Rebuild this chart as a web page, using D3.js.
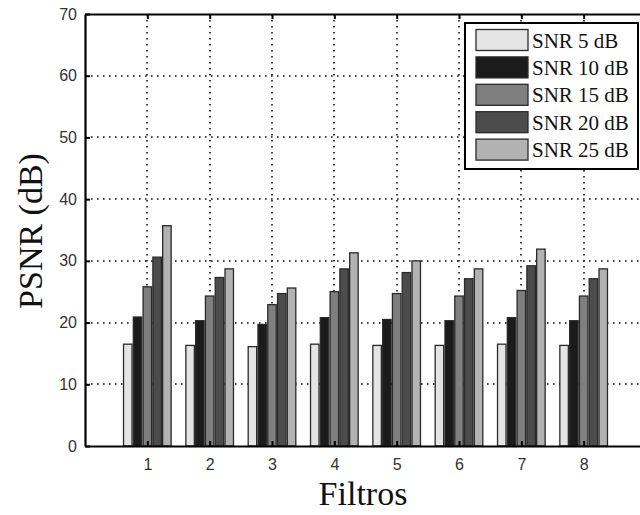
<!DOCTYPE html>
<html>
<head>
<meta charset="utf-8">
<script src="https://cdn.jsdelivr.net/npm/d3@7"></script>
<style>
  html, body { margin: 0; padding: 0; background: #fff; overflow: hidden; }
  svg { display: block; }
</style>
</head>
<body>
<svg id="chart" width="640" height="515"></svg>
<script>
// PSNR per filter for each input SNR level
const filtros = [1, 2, 3, 4, 5, 6, 7, 8];
const seriesNames = ["SNR 5 dB", "SNR 10 dB", "SNR 15 dB", "SNR 20 dB", "SNR 25 dB"];
const snr5  = [16.5, 16.3, 16.1, 16.5, 16.3, 16.3, 16.5, 16.3];
const snr10 = [20.9, 20.3, 19.7, 20.8, 20.5, 20.3, 20.8, 20.3];
const snr15 = [25.8, 24.3, 22.9, 25.0, 24.7, 24.3, 25.2, 24.3];
const snr20 = [30.6, 27.3, 24.7, 28.7, 28.1, 27.1, 29.2, 27.1];
const snr25 = [35.7, 28.7, 25.6, 31.3, 30.0, 28.7, 31.9, 28.7];
const yTicks = [0, 10, 20, 30, 40, 50, 60, 70];
const seriesValues = [snr5, snr10, snr15, snr20, snr25];
const fills = ["#e4e4e4", "#1b1b1b", "#7f7f7f", "#4c4c4c", "#b2b2b2"];

const svg = d3.select("#chart");
const plotLeft = 85, plotTop = 14, plotBottom = 446, plotRight = 646;

const x = d3.scaleLinear().domain([0, 9]).range([plotLeft, plotRight]);
const y = d3.scaleLinear().domain([0, 70]).range([plotBottom, plotTop]);

// dotted grid, snapped to whole pixels so the dots stay crisp
const grid = svg.append("g").attr("stroke", "#111").attr("stroke-width", 1.6)
  .attr("stroke-dasharray", "1.6,4.4");
grid.selectAll("line.v").data(filtros).join("line").attr("class", "v")
  .attr("x1", d => Math.round(x(d))).attr("x2", d => Math.round(x(d)))
  .attr("y1", plotTop).attr("y2", plotBottom);
grid.selectAll("line.h").data(yTicks.filter(t => t > 0 && t < 70)).join("line").attr("class", "h")
  .attr("x1", plotLeft).attr("x2", plotRight)
  .attr("y1", d => Math.round(y(d))).attr("y2", d => Math.round(y(d)));

// grouped bars
const step = 0.157, barW = 0.136;
const bars = svg.append("g");
seriesValues.forEach((vals, si) => {
  bars.append("g").selectAll("rect").data(vals).join("rect")
    .attr("x", (d, i) => x(filtros[i] + (si - 2) * step - barW / 2))
    .attr("width", x(barW) - x(0))
    .attr("y", d => y(d))
    .attr("height", d => y(0) - y(d))
    .attr("fill", fills[si])
    .attr("stroke", "#2a2a2a")
    .attr("stroke-width", 1.3);
});

// axes box
const tickFont = "Liberation Sans, Arial, sans-serif";
const axisG = svg.append("g");
axisG.append("g").attr("transform", `translate(${plotLeft},0)`)
  .call(d3.axisLeft(y).tickValues(yTicks).tickSizeInner(-5).tickSizeOuter(0).tickPadding(8))
  .call(g => g.select(".domain").attr("stroke-width", 2.2))
  .call(g => g.selectAll(".tick line").attr("stroke-width", 2))
  .call(g => g.selectAll("text").attr("font-family", tickFont)
    .attr("font-size", 16).attr("fill", "#333"));
axisG.append("g").attr("transform", `translate(0,${plotBottom})`)
  .call(d3.axisBottom(x).tickValues(filtros).tickFormat(d3.format("d"))
    .tickSizeInner(-5).tickSizeOuter(0).tickPadding(13))
  .call(g => g.select(".domain").attr("stroke-width", 2.2))
  .call(g => g.selectAll(".tick line").attr("stroke-width", 2))
  .call(g => g.selectAll("text").attr("font-family", tickFont)
    .attr("font-size", 16).attr("fill", "#333"));
axisG.append("g").attr("transform", `translate(0,${plotTop})`)
  .call(d3.axisTop(x).tickValues(filtros).tickFormat("").tickSizeInner(-5).tickSizeOuter(0))
  .call(g => g.select(".domain").attr("stroke-width", 2.2))
  .call(g => g.selectAll(".tick line").attr("stroke-width", 2));

// axis titles
const titleFont = "Liberation Serif, Times New Roman, serif";
svg.append("text")
  .attr("x", 363).attr("y", 505)
  .attr("text-anchor", "middle")
  .attr("font-family", titleFont)
  .attr("font-size", 34).attr("fill", "#111")
  .text("Filtros");
svg.append("text")
  .attr("transform", "translate(42,231) rotate(-90)")
  .attr("text-anchor", "middle")
  .attr("font-family", titleFont)
  .attr("font-size", 34).attr("fill", "#111")
  .text("PSNR (dB)");

// legend
const lg = svg.append("g");
lg.append("rect")
  .attr("x", 465).attr("y", 23).attr("width", 173).attr("height", 146)
  .attr("fill", "#fff").attr("stroke", "#000").attr("stroke-width", 2);
const entries = lg.selectAll("g.entry").data(seriesNames).join("g").attr("class", "entry")
  .attr("transform", (d, i) => `translate(0,${40 + i * 27.4})`);
entries.append("rect")
  .attr("x", 476).attr("y", -10.5).attr("width", 52).attr("height", 21)
  .attr("fill", (d, i) => fills[i]).attr("stroke", "#2a2a2a").attr("stroke-width", 1.3);
entries.append("text")
  .attr("x", 532).attr("y", 7.5)
  .attr("font-family", titleFont)
  .attr("font-size", 21).attr("fill", "#111")
  .text(d => d);
</script>
</body>
</html>
